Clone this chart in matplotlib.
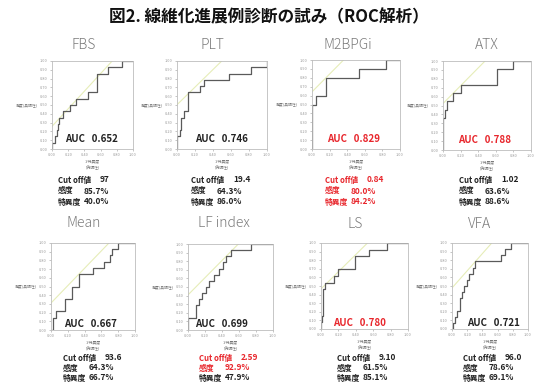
import numpy as np
import matplotlib
matplotlib.use("Agg")
import matplotlib.pyplot as plt

plt.rcParams['font.family'] = ['Noto Sans CJK JP', 'DejaVu Sans']

names = ["FBS", "PLT", "M2BPGi", "ATX", "Mean", "LF index", "LS", "VFA"]
auc = [0.652, 0.746, 0.829, 0.788, 0.667, 0.699, 0.780, 0.721]
cutoff = ["97", "19.4", "0.84", "1.02", "93.6", "2.59", "9.10", "96.0"]
sens = [85.7, 64.3, 80.0, 63.6, 64.3, 92.9, 61.5, 78.6]
spec = [40.0, 86.0, 84.2, 88.6, 66.7, 47.9, 85.1, 69.1]

# which numbers are highlighted in red
auc_red = [False, False, True, True, False, False, True, False]
cut_red = [False, False, True, False, False, True, False, False]
sens_red = [False, False, True, False, False, True, False, False]
spec_red = [False, False, True, False, False, False, False, False]

# ROC corner points (1-specificity, sensitivity), drawn as post steps
fbs_fpr = [0, 0, 0.04, 0.06, 0.08, 0.09, 0.13, 0.22, 0.30, 0.45, 0.55, 0.69, 0.86, 1.0]
fbs_tpr = [0, 0.071, 0.143, 0.214, 0.286, 0.357, 0.429, 0.5, 0.571, 0.643, 0.857, 0.929, 1.0, 1.0]
plt_fpr = [0, 0, 0.03, 0.04, 0.08, 0.12, 0.25, 0.30, 0.58, 0.82, 1.0, 1.0]
plt_tpr = [0, 0.143, 0.214, 0.357, 0.429, 0.643, 0.714, 0.786, 0.857, 0.929, 0.929, 1.0]
m2_fpr = [0, 0, 0.04, 0.158, 0.53, 0.84, 1.0]
m2_tpr = [0, 0.5, 0.6, 0.8, 0.9, 1.0, 1.0]
atx_fpr = [0, 0, 0.02, 0.04, 0.114, 0.2, 0.61, 0.79, 1.0]
atx_tpr = [0, 0.364, 0.455, 0.545, 0.636, 0.727, 0.909, 1.0, 1.0]
mean_fpr = [0, 0.02, 0.02, 0.06, 0.17, 0.25, 0.333, 0.5, 0.63, 0.70, 0.73, 0.80, 1.0]
mean_tpr = [0, 0, 0.143, 0.214, 0.357, 0.5, 0.643, 0.714, 0.786, 0.857, 0.929, 1.0, 1.0]
lf_fpr = [0, 0, 0.09, 0.13, 0.17, 0.21, 0.25, 0.31, 0.37, 0.41, 0.45, 0.50, 0.74, 1.0]
lf_tpr = [0, 0.143, 0.286, 0.357, 0.429, 0.5, 0.571, 0.643, 0.714, 0.786, 0.857, 0.929, 1.0, 1.0]
ls_fpr = [0, 0, 0.01, 0.02, 0.05, 0.149, 0.2, 0.39, 0.55, 0.76, 1.0]
ls_tpr = [0, 0.077, 0.154, 0.462, 0.538, 0.615, 0.692, 0.846, 0.923, 1.0, 1.0]
vfa_fpr = [0, 0.01, 0.01, 0.04, 0.07, 0.10, 0.13, 0.16, 0.20, 0.23, 0.27, 0.309, 0.65, 0.70, 0.78, 1.0]
vfa_tpr = [0, 0, 0.071, 0.143, 0.214, 0.357, 0.429, 0.5, 0.571, 0.643, 0.714, 0.786, 0.857, 0.929, 1.0, 1.0]

rocs = [(fbs_fpr, fbs_tpr), (plt_fpr, plt_tpr), (m2_fpr, m2_tpr), (atx_fpr, atx_tpr),
        (mean_fpr, mean_tpr), (lf_fpr, lf_tpr), (ls_fpr, ls_tpr), (vfa_fpr, vfa_tpr)]

W, H = 538, 386
RED = "#e8262c"

# pixel boxes (left, top, right, bottom), title centre, text block left/top, AUC anchor
boxes = [(52, 61, 133, 149), (177, 61, 267, 149), (312, 60, 400, 149), (443, 61, 531, 150),
         (51, 243, 135, 330), (188, 244, 273, 330), (321, 243, 408, 329), (452, 243, 528, 329)]
title_xy = [(84, 45), (212, 45), (348, 45), (487, 45),
            (84, 223), (224, 223), (355, 224), (480, 224)]
text_xy = [(58, 180), (191, 180), (325, 180), (459, 180),
           (63, 358), (199, 358), (337, 358), (463, 358)]
line_gap = [11, 11, 11, 11, 10, 10, 10, 10]
auc_xy = [(0.16, 0.11), (0.20, 0.11), (0.17, 0.11), (0.17, 0.11),
          (0.15, 0.065), (0.08, 0.065), (0.14, 0.065), (0.20, 0.065)]

fig = plt.figure(figsize=(W / 100, H / 100), dpi=100)
fig.text(269 / W, 1 - 17 / H, "図2. 線維化進展例診断の試み（ROC解析）",
         ha="center", va="center", fontsize=12, fontweight="bold", color="#111")

for i, name in enumerate(names):
    l, t, r, b = boxes[i]
    ax = fig.add_axes([l / W, 1 - b / H, (r - l) / W, (b - t) / H])
    fpr, tpr = rocs[i]
    j = sens[i] / 100 + spec[i] / 100 - 1
    ax.plot([0, 1 - j], [j, 1], color="#e6edb8", lw=0.8)
    ax.plot(fpr, tpr, drawstyle="steps-post", color="#5a5a5a", lw=0.9)
    ax.set_xlim(0, 1)
    ax.set_ylim(0, 1)
    ax.set_xticks(np.arange(0, 1.01, 0.2))
    ax.set_yticks(np.arange(0, 1.01, 0.1))
    ax.xaxis.set_major_formatter(plt.FormatStrFormatter("%.2f"))
    ax.yaxis.set_major_formatter(plt.FormatStrFormatter("%.2f"))
    ax.tick_params(labelsize=2.8, colors="#999", length=1.5, width=0.4, pad=1.5)
    for s in ax.spines.values():
        s.set_color("#bdbdbd")
        s.set_linewidth(0.6)
    ax.set_xlabel("1-特異度\n(偽陽性)", fontsize=2.8, color="#777", labelpad=1.5, linespacing=1.6)
    ax.set_ylabel("感度(真陽性)", fontsize=2.8, color="#777", rotation=0,
                  ha="right", va="center", labelpad=1.5)

    ax.text(auc_xy[i][0], auc_xy[i][1], f"AUC   {auc[i]:.3f}", fontsize=7, fontweight="bold",
            color=RED if auc_red[i] else "#222", ha="left", va="center")

    fig.text(title_xy[i][0] / W, 1 - title_xy[i][1] / H, name, ha="center", va="center",
             fontsize=10, color="#7a7a7a", fontweight="light")

    tx, ty = text_xy[i]
    lines = [("Cut off値", cutoff[i], cut_red[i], 42),
             ("感度", f"{sens[i]:.1f}%", sens_red[i], 26),
             ("特異度", f"{spec[i]:.1f}%", spec_red[i], 26)]
    for k, (lab, val, red, off) in enumerate(lines):
        c = RED if red else "#222"
        y = 1 - (ty + k * line_gap[i]) / H
        fig.text(tx / W, y, lab, ha="left", va="center", fontsize=5.6,
                 fontweight="bold", color=c)
        fig.text((tx + off) / W, y, val, ha="left", va="center", fontsize=6,
                 fontweight="bold", color=c)

fig.savefig("out.png", dpi=100, facecolor="white")
